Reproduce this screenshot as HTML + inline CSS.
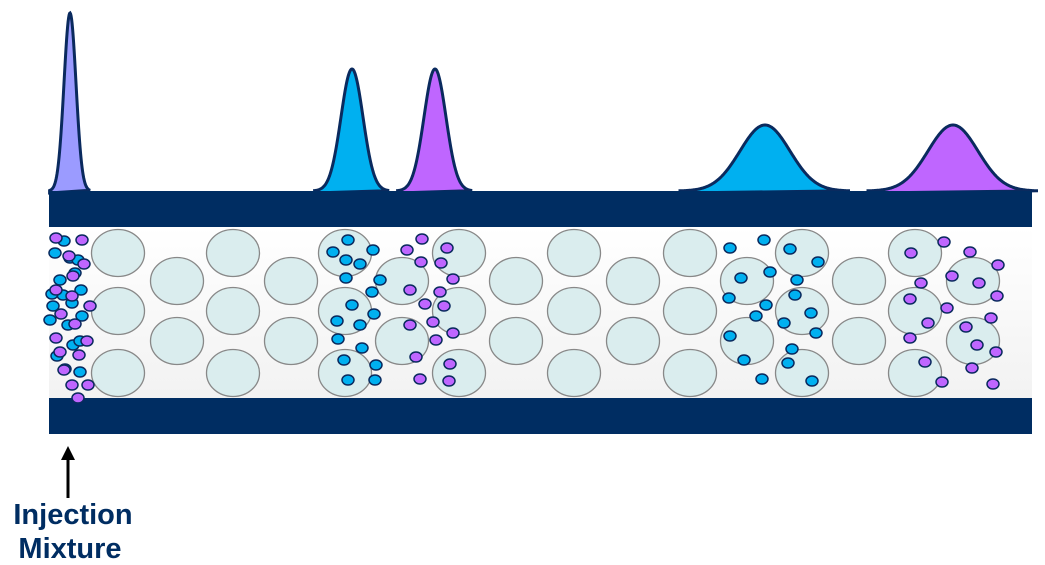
<!DOCTYPE html>
<html><head><meta charset="utf-8"><style>
html,body{margin:0;padding:0;background:#fff;width:1045px;height:565px;overflow:hidden}
svg{display:block}
</style></head><body>
<svg id="c" width="1045" height="565" viewBox="0 0 1045 565">
<defs>
<linearGradient id="g" x1="0" y1="0" x2="0" y2="1"><stop offset="0" stop-color="#ffffff"/><stop offset="1" stop-color="#f2f2f2"/></linearGradient>
</defs>
<rect x="49" y="227" width="983" height="171" fill="url(#g)"/>
<g id="peaks"></g>
<rect x="49" y="191" width="983" height="36" fill="#002D62"/>
<rect x="49" y="398" width="983" height="36" fill="#002D62"/>
<g id="beads"></g>
<g id="dots"></g>
<line x1="68" y1="498" x2="68" y2="458" stroke="#000" stroke-width="3"/>
<polygon points="68,446 61,460 75,460" fill="#000"/>
<text x="73" y="524" text-anchor="middle" font-family="Liberation Sans, sans-serif" font-weight="bold" font-size="29" fill="#002D62">Injection</text>
<text x="70" y="558" text-anchor="middle" font-family="Liberation Sans, sans-serif" font-weight="bold" font-size="29" fill="#002D62">Mixture</text>
</svg>
<script>
const peakCenters=[70,352,435,765,953];
const peakHeights=[178,122,122,66,66];
const peakWidths=[6,11,11,25,25];
const peakColors=['#9B9BFF','#00B0F0','#BF66FF','#00B0F0','#BF66FF'];
const beadX=[118,177,233,291,345,402,459,516,574,633,690,747,802,859,915,973];
const beadYOdd=[253,311,373];
const beadYEven=[281,341];
const cyanDots=[[55,253],[64,241],[70,258],[60,280],[75,273],[63,295],[53,306],[72,303],[81,290],[50,320],[68,325],[82,316],[73,345],[80,341],[57,356],[65,369],[80,372],[52,294],[78,260],[348,240],[333,252],[346,260],[360,264],[346,278],[352,305],[360,325],[337,321],[338,339],[362,348],[344,360],[348,380],[375,380],[373,250],[372,292],[380,280],[374,314],[376,365],[730,248],[764,240],[790,249],[818,262],[741,278],[770,272],[797,280],[729,298],[766,305],[795,295],[811,313],[784,323],[756,316],[816,333],[730,336],[792,349],[744,360],[788,363],[762,379],[812,381]];
const purpleDots=[[56,238],[82,240],[69,256],[84,264],[73,276],[56,290],[90,306],[72,296],[61,314],[75,324],[87,341],[56,338],[60,352],[79,355],[64,370],[88,385],[72,385],[78,398],[407,250],[422,239],[447,248],[441,263],[421,262],[453,279],[410,290],[440,292],[425,304],[444,306],[433,322],[453,333],[410,325],[436,340],[416,357],[450,364],[420,379],[449,381],[911,253],[944,242],[970,252],[998,265],[952,276],[979,283],[921,283],[910,299],[947,308],[997,296],[928,323],[966,327],[991,318],[996,352],[910,338],[972,368],[925,362],[942,382],[993,384],[977,345]];
const NS='http://www.w3.org/2000/svg';
const pk=document.getElementById('peaks');
for(let i=0;i<peakCenters.length;i++){
  const c=peakCenters[i],h=peakHeights[i],w=peakWidths[i];
  let d='M'+(c-3.4*w)+',193';
  for(let x=c-3.4*w;x<=c+3.4*w;x+=0.5){const y=191-h*Math.exp(-Math.pow((x-c)/w,2)/2);d+=' L'+x.toFixed(1)+','+y.toFixed(1);}
  d+=' Z';
  const p=document.createElementNS(NS,'path');
  p.setAttribute('d',d);p.setAttribute('fill',peakColors[i]);p.setAttribute('stroke','#0A2A5E');p.setAttribute('stroke-width','3');
  
  
  pk.appendChild(p);
}
const bg=document.getElementById('beads');
beadX.forEach((x,i)=>{
  (i%2===0?beadYOdd:beadYEven).forEach(y=>{
    const e=document.createElementNS(NS,'ellipse');
    e.setAttribute('cx',x);e.setAttribute('cy',y);e.setAttribute('rx',26.5);e.setAttribute('ry',23.5);
    e.setAttribute('fill','#DAEDEE');e.setAttribute('stroke','#888');e.setAttribute('stroke-width','1.3');
    
    
    bg.appendChild(e);
  });
});
const dg=document.getElementById('dots');
function dot(p,col,name){
  const e=document.createElementNS(NS,'ellipse');
  e.setAttribute('cx',p[0]);e.setAttribute('cy',p[1]);e.setAttribute('rx',6);e.setAttribute('ry',5);
  e.setAttribute('fill',col);e.setAttribute('stroke','#0A2A5E');e.setAttribute('stroke-width','1.5');
  
  
  dg.appendChild(e);
}
cyanDots.forEach(p=>dot(p,'#00B0F0','cyan-molecule'));
purpleDots.forEach(p=>dot(p,'#BF66FF','purple-molecule'));
</script>
</body></html>
